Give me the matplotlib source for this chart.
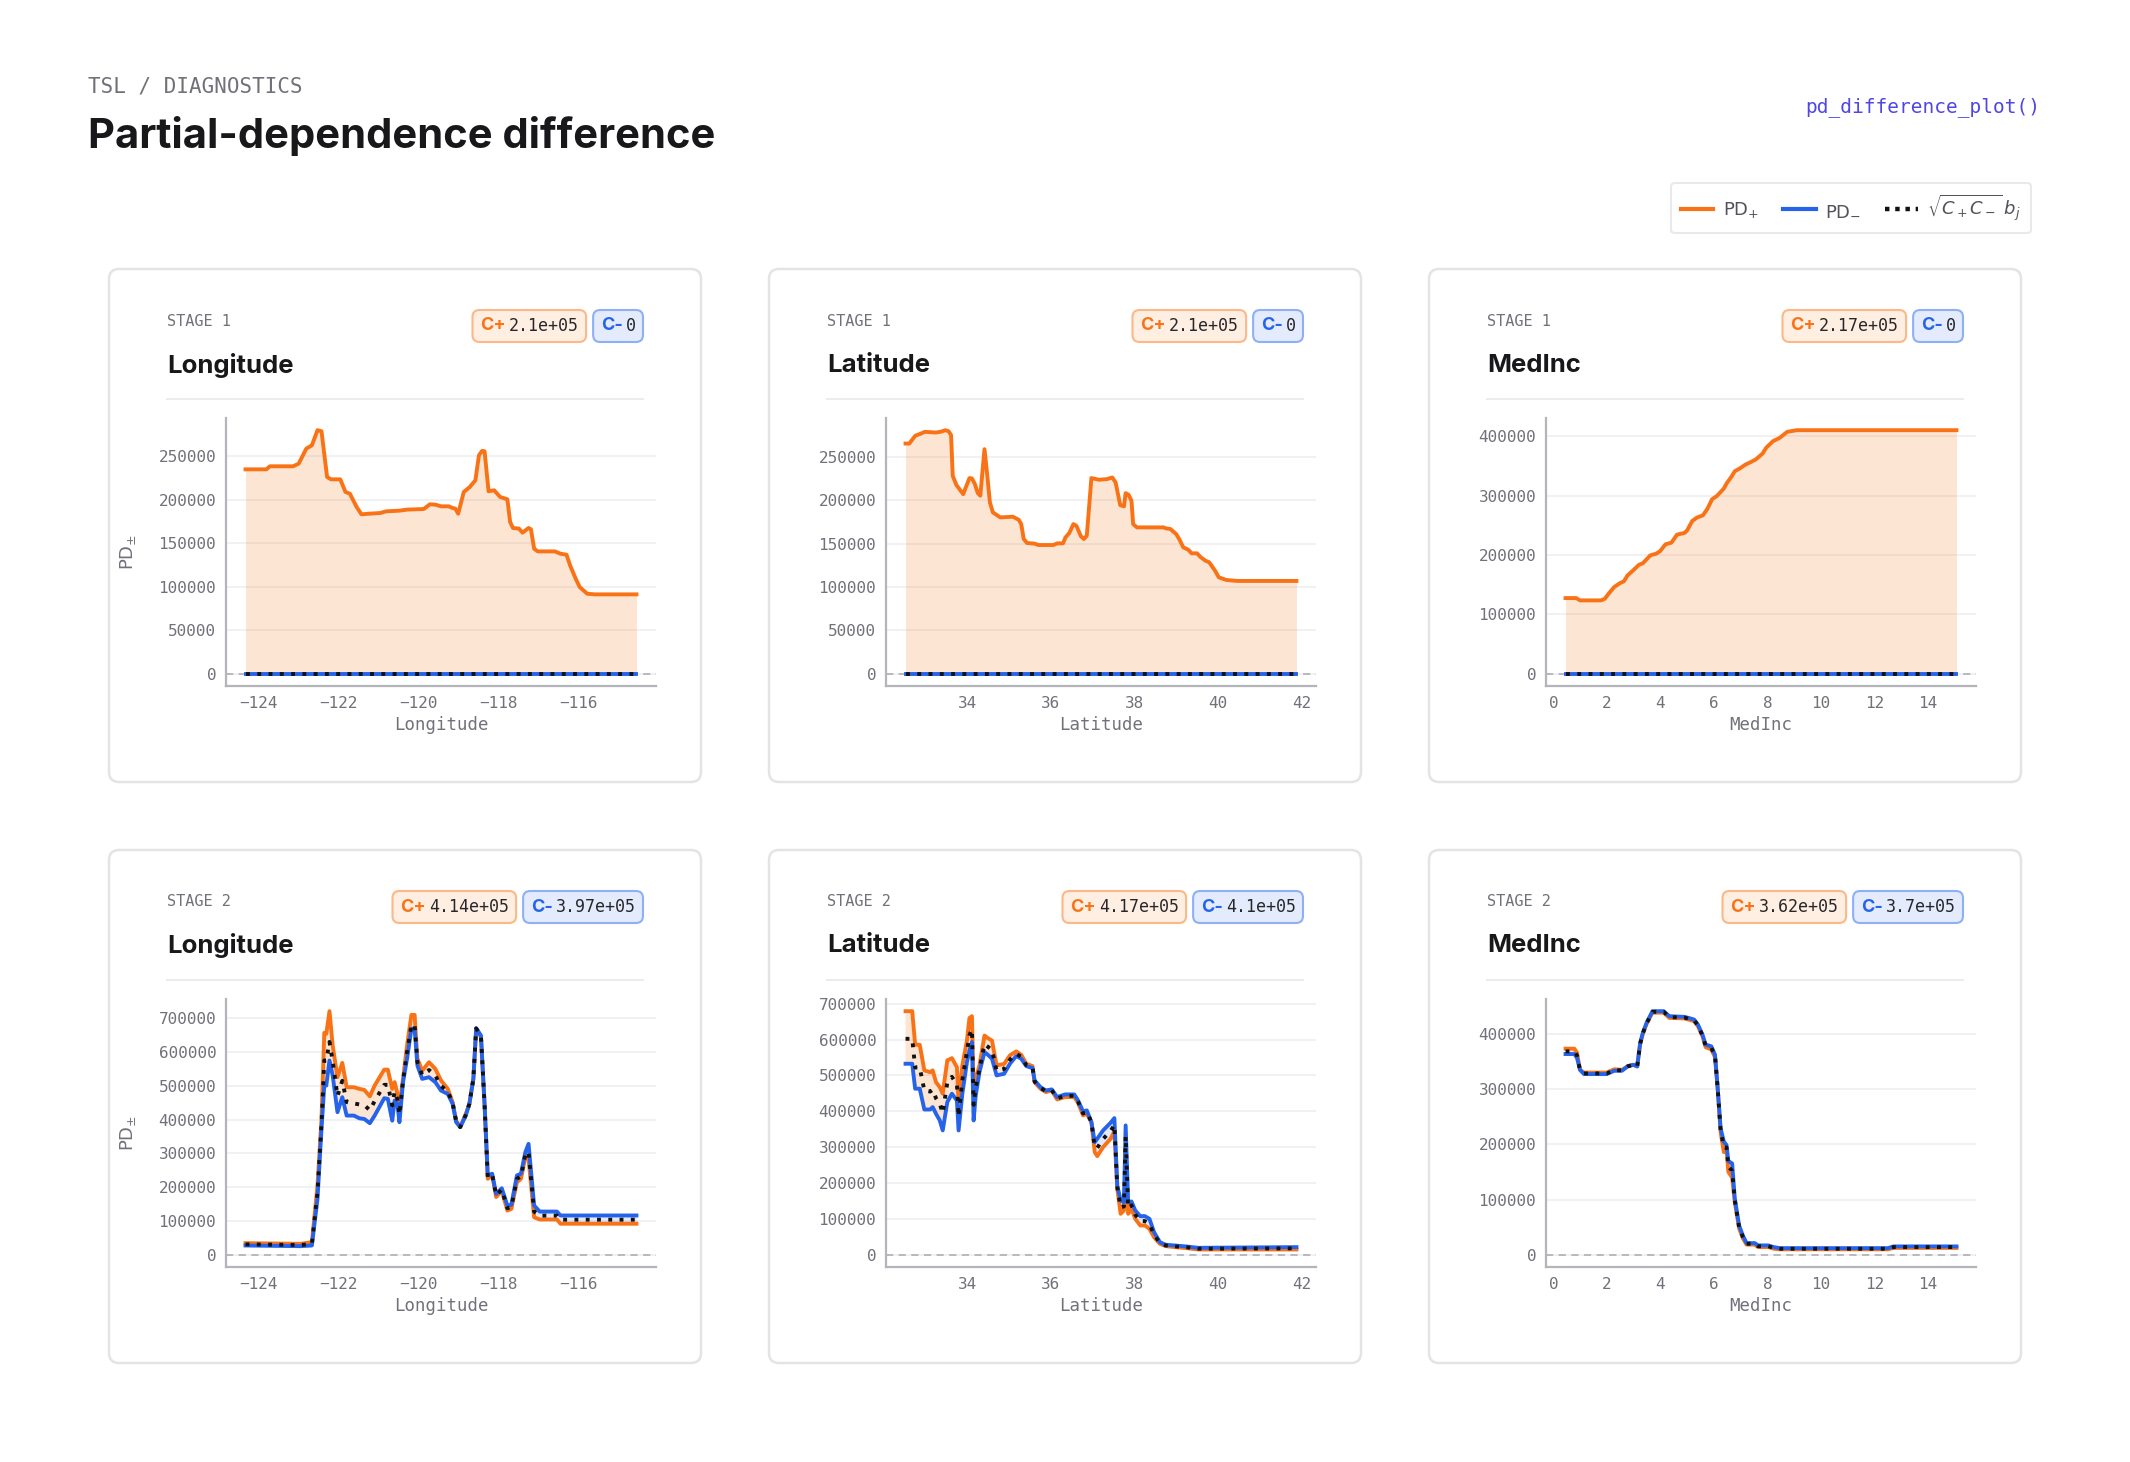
import numpy as np
import matplotlib
matplotlib.use("Agg")
import matplotlib.pyplot as plt
from matplotlib.lines import Line2D
from matplotlib.patches import FancyBboxPatch
from matplotlib.ticker import MultipleLocator

W, H = 2130, 1462
ORANGE = "#f97316"
BLUE = "#2563eb"
GRAY = "#71717a"
INK = "#18181b"
MONO = "DejaVu Sans Mono"
SANS = "Inter"

features = ["Longitude", "Latitude", "MedInc"]
stages = ["STAGE 1", "STAGE 2"]
c_plus = [["2.1e+05", "2.1e+05", "2.17e+05"], ["4.14e+05", "4.17e+05", "3.62e+05"]]
c_minus = [["0", "0", "0"], ["3.97e+05", "4.1e+05", "3.7e+05"]]

# ---- stage 1 (PD- and the dotted term are zero everywhere) ----
s1_lon_x = [-124.33, -123.81, -123.72, -123.14, -123.0, -122.81, -122.67, -122.53, -122.43, -122.29,
            -122.19, -121.96, -121.83, -121.72, -121.55, -121.43, -121.24, -120.96, -120.82, -120.48,
            -120.29, -119.87, -119.72, -119.58, -119.44, -119.25, -119.15, -119.08, -119.01, -118.87,
            -118.72, -118.58, -118.49, -118.41, -118.35, -118.25, -118.11, -117.96, -117.78, -117.71,
            -117.64, -117.49, -117.40, -117.25, -117.19, -117.11, -117.02, -116.59, -116.45, -116.30,
            -116.21, -116.07, -115.97, -115.78, -115.59, -114.55]
s1_lon_plus = [235000, 235000, 238500, 238500, 241500, 258800, 262600, 280000, 278800, 226200,
               223500, 223500, 209000, 207000, 191700, 183300, 184000, 184800, 186700, 187500,
               188700, 189400, 194800, 194400, 192500, 192500, 190600, 189800, 184000, 209000,
               214700, 222400, 251200, 256200, 255800, 209800, 210900, 203200, 200600, 174500,
               167600, 166900, 162200, 167600, 166100, 143800, 140700, 140700, 138000, 136900,
               124600, 109300, 99700, 92000, 91300, 91300]

s1_lat_x = [32.52, 32.61, 32.75, 32.89, 32.98, 33.25, 33.38, 33.47, 33.55, 33.61,
            33.65, 33.74, 33.90, 34.05, 34.11, 34.18, 34.25, 34.31, 34.41, 34.47,
            34.54, 34.61, 34.79, 35.09, 35.23, 35.29, 35.35, 35.43, 35.61, 35.70,
            36.06, 36.15, 36.29, 36.35, 36.44, 36.54, 36.61, 36.72, 36.79, 36.86,
            36.97, 37.15, 37.34, 37.47, 37.55, 37.66, 37.75, 37.79, 37.86, 37.93,
            37.97, 38.06, 38.43, 38.70, 38.75, 38.86, 39.00, 39.08, 39.17, 39.29,
            39.37, 39.50, 39.59, 39.70, 39.79, 39.93, 40.02, 40.20, 40.47, 41.88]
s1_lat_plus = [265300, 265300, 274200, 276800, 278800, 278000, 279100, 280700, 279500, 275000,
               228000, 217400, 207000, 225500, 225100, 218600, 208200, 205200, 258800, 232000,
               197500, 186000, 180200, 181000, 177500, 172500, 155300, 150700, 150000, 148400,
               148400, 150300, 150300, 157200, 162200, 172500, 170600, 158400, 155300, 159100,
               225500, 223600, 224300, 226200, 220500, 194400, 192900, 208200, 206300, 199400,
               172500, 168700, 168700, 168700, 167600, 166900, 161000, 154600, 145700, 143000,
               138800, 138800, 134200, 130400, 128500, 118900, 111200, 108100, 107000, 107000]

s1_inc_x = [0.45, 0.85, 0.99, 1.78, 1.92, 2.06, 2.27, 2.49, 2.63, 2.77,
            2.98, 3.20, 3.34, 3.62, 3.84, 3.98, 4.19, 4.41, 4.62, 4.90,
            5.00, 5.19, 5.36, 5.59, 5.76, 5.93, 6.11, 6.37, 6.47, 6.65,
            6.78, 6.96, 7.18, 7.39, 7.56, 7.82, 7.96, 8.21, 8.46, 8.74,
            9.10, 15.07]
s1_inc_plus = [127500, 127500, 123600, 123600, 126400, 134800, 146100, 152800, 155600, 165700,
               174200, 183700, 186000, 199400, 202200, 206200, 218000, 220800, 234300, 237100,
               241600, 257300, 262900, 266900, 278100, 293800, 299400, 311800, 320200, 331500,
               341000, 345500, 352200, 356700, 360700, 370800, 380900, 391600, 397200, 407300,
               410100, 410100]

# ---- stage 2 ----
s2_lon_x = [-124.33, -122.95, -122.67, -122.53, -122.43, -122.36, -122.31, -122.23, -122.15, -122.03,
            -121.91, -121.80, -121.62, -121.48, -121.36, -121.22, -121.10, -120.86, -120.77, -120.66,
            -120.60, -120.53, -120.48, -120.39, -120.29, -120.18, -120.10, -120.03, -119.91, -119.74,
            -119.58, -119.44, -119.27, -119.15, -119.06, -118.96, -118.82, -118.73, -118.63, -118.56,
            -118.44, -118.35, -118.27, -118.16, -118.06, -117.92, -117.78, -117.68, -117.54, -117.44,
            -117.33, -117.25, -117.11, -116.97, -116.54, -116.45, -114.55]
s2_lon_plus = [34500, 32500, 37500, 205000, 402000, 657000, 654000, 721000, 619000, 525600,
               568000, 496000, 496000, 491000, 488000, 469000, 501000, 548000, 548000, 491000,
               511000, 476000, 442000, 521000, 619000, 710000, 710000, 580000, 545000, 570000,
               550000, 516000, 491000, 452000, 397000, 378000, 417000, 447000, 521000, 669000,
               644000, 442000, 225000, 235000, 171000, 190000, 131000, 136000, 215000, 225000,
               289000, 284000, 111000, 104500, 104500, 92000, 92000]
s2_lon_minus = [27600, 25600, 27600, 165700, 372800, 501000, 501000, 575000, 530600, 422000,
                466500, 412000, 412000, 404000, 402000, 389500, 412000, 463500, 461500, 397000,
                456500, 446700, 392500, 511000, 580000, 669000, 669000, 560000, 520700, 525600,
                510800, 486000, 476000, 447000, 392500, 378000, 412000, 447000, 521000, 670600,
                649000, 447000, 235000, 240000, 180500, 197000, 146000, 148000, 235000, 240000,
                303700, 328400, 146000, 128000, 128000, 116400, 116400]
s2_lon_dot = [31000, 29000, 32500, 185000, 387000, 575000, 575000, 630000, 573000, 470000,
              515000, 452000, 448000, 445000, 443000, 428000, 455000, 503000, 503000, 442000,
              483000, 460000, 415000, 515000, 600000, 680000, 680000, 570000, 532000, 547000,
              530000, 500000, 483000, 450000, 395000, 378000, 414000, 447000, 521000, 670000,
              646000, 445000, 230000, 238000, 176000, 193000, 138000, 142000, 225000, 232000,
              296000, 305000, 128000, 116000, 116000, 104000, 104000]

s2_lat_x = [32.52, 32.68, 32.75, 32.86, 32.97, 33.11, 33.17, 33.25, 33.34, 33.41,
            33.52, 33.63, 33.75, 33.79, 33.88, 33.99, 34.05, 34.11, 34.15, 34.20,
            34.29, 34.41, 34.49, 34.59, 34.70, 34.88, 35.02, 35.17, 35.29, 35.41,
            35.56, 35.61, 35.75, 35.88, 36.02, 36.15, 36.34, 36.56, 36.65, 36.77,
            36.86, 36.97, 37.05, 37.11, 37.25, 37.43, 37.52, 37.59, 37.67, 37.75,
            37.79, 37.85, 37.93, 38.02, 38.14, 38.25, 38.36, 38.47, 38.61, 38.75,
            38.97, 39.25, 39.52, 41.88]
s2_lat_plus = [679000, 679000, 585500, 585500, 514000, 509000, 514000, 481000, 467000, 449000,
               542000, 548000, 523000, 426000, 528000, 597000, 660000, 665000, 463000, 491000,
               528000, 611000, 604000, 597000, 528000, 532000, 556000, 567000, 557600, 532500,
               526000, 481000, 463000, 453500, 458000, 433000, 439600, 439600, 423700, 388500,
               393000, 370000, 286000, 275000, 300000, 323400, 343800, 184000, 114300, 123600,
               300000, 114300, 128000, 100300, 81800, 81800, 72500, 49000, 30700, 24200,
               21400, 18600, 14900, 14900]
s2_lat_minus = [532500, 532500, 463000, 463000, 405000, 405000, 411700, 393000, 374500, 346700,
                425600, 449000, 430000, 346700, 449000, 537000, 570000, 593000, 374500, 444000,
                509000, 565000, 557600, 546500, 500000, 504600, 532500, 554000, 546500, 526000,
                520400, 486000, 467500, 458000, 461000, 439600, 447000, 447000, 430300, 399600,
                402400, 370000, 314000, 323400, 346700, 368000, 381000, 193300, 151500, 146800,
                360600, 146800, 148700, 123600, 107800, 107800, 100300, 63200, 35300, 27900,
                26000, 23200, 19500, 21400]
s2_lat_dot = [602000, 602000, 522000, 522000, 458000, 455000, 460000, 436000, 420000, 395000,
              480000, 496000, 475000, 385000, 487000, 566000, 612000, 628000, 418000, 466000,
              518000, 587000, 580000, 571000, 513000, 518000, 544000, 560000, 552000, 529000,
              523000, 483000, 465000, 456000, 459000, 436000, 443000, 443000, 427000, 394000,
              398000, 370000, 300000, 298000, 323000, 345000, 362000, 188000, 132000, 135000,
              330000, 130000, 138000, 112000, 94000, 94000, 86000, 56000, 33000, 26000,
              23500, 21000, 17000, 18000]

s2_inc_x = [0.45, 0.78, 0.88, 0.99, 1.14, 1.99, 2.27, 2.56, 2.77, 2.98,
            3.13, 3.24, 3.34, 3.48, 3.70, 4.12, 4.33, 4.90, 5.05, 5.26,
            5.40, 5.57, 5.69, 5.90, 6.04, 6.14, 6.25, 6.37, 6.47, 6.54,
            6.68, 6.78, 6.94, 7.08, 7.22, 7.53, 7.65, 8.03, 8.24, 8.46,
            12.51, 12.72, 15.07]
s2_inc_plus = [373300, 373300, 366000, 335000, 330000, 330000, 336000, 335000, 341200, 344200,
               341200, 381000, 400000, 418000, 438500, 438500, 429000, 428000, 426000, 423000,
               414000, 396000, 376000, 372000, 358000, 300000, 222000, 186000, 190000, 150000,
               140000, 95000, 48000, 30000, 18500, 18500, 14000, 14000, 11000, 10000,
               10000, 12500, 12500]
s2_inc_minus = [363600, 363600, 356400, 335000, 327300, 327300, 333300, 333300, 341200, 344200,
                341200, 383600, 401800, 420000, 441200, 441200, 432100, 430900, 429000, 426000,
                417000, 398800, 380600, 377600, 362400, 301800, 229000, 204800, 198800, 169700,
                165500, 101800, 53300, 35100, 21200, 21200, 17000, 17000, 13900, 12100,
                12100, 15200, 15200]
s2_inc_dot = [368500, 368500, 361000, 335000, 328500, 328500, 334500, 334000, 341200, 344200,
              341200, 382000, 401000, 419000, 440000, 440000, 430500, 429500, 427500, 424500,
              415500, 397500, 378000, 375000, 360000, 301000, 225500, 195000, 194500, 160000,
              152000, 98500, 50500, 32500, 20000, 20000, 15500, 15500, 12500, 11000,
              11000, 14000, 14000]

panels = [
    [(s1_lon_x, s1_lon_plus, np.zeros(len(s1_lon_x)), np.zeros(len(s1_lon_x))),
     (s1_lat_x, s1_lat_plus, np.zeros(len(s1_lat_x)), np.zeros(len(s1_lat_x))),
     (s1_inc_x, s1_inc_plus, np.zeros(len(s1_inc_x)), np.zeros(len(s1_inc_x)))],
    [(s2_lon_x, s2_lon_plus, s2_lon_minus, s2_lon_dot),
     (s2_lat_x, s2_lat_plus, s2_lat_minus, s2_lat_dot),
     (s2_inc_x, s2_inc_plus, s2_inc_minus, s2_inc_dot)],
]
y_steps = [[50000, 50000, 100000], [100000, 100000, 100000]]

plt.rcParams["font.family"] = [SANS, "DejaVu Sans"]
fig = plt.figure(figsize=(W / 100, H / 100), dpi=100)
fig.patch.set_facecolor("white")
renderer = fig.canvas.get_renderer()


def fx(px):
    return px / W


def fy(py):
    return 1 - py / H


def box(x0, y0, w, h, r, **kw):
    # pixel rectangle (top-left origin), drawn in inches so corners stay round
    p = FancyBboxPatch((x0 / 100, (H - y0 - h) / 100), w / 100, h / 100,
                       boxstyle=f"round,pad=0,rounding_size={r / 100}",
                       transform=fig.dpi_scale_trans, **kw)
    fig.add_artist(p)
    return p


def badge(right, yc, label, value, color, face, edge):
    tv = fig.text(fx(right - 7), fy(yc), value, ha="right", va="center",
                  family=MONO, size=12, color="#27272a", zorder=6)
    wv = tv.get_window_extent(renderer).width
    tl = fig.text(fx(right - 7 - wv - 3), fy(yc), label, ha="right", va="center",
                  family=SANS, weight="bold", size=13, color=color, zorder=6)
    wl = tl.get_window_extent(renderer).width
    left = right - 7 - wv - 3 - wl - 8
    box(left, yc - 16, right - left, 32, 7, fc=face, ec=edge, lw=1.5, zorder=5)
    return left


# header
fig.text(fx(88), fy(86), "TSL / DIAGNOSTICS", family=MONO, size=15, color=GRAY, va="center")
fig.text(fx(88), fy(136), "Partial-dependence difference", family=SANS, weight="bold",
         size=30, color=INK, va="center")
fig.text(fx(2040), fy(107), "pd_difference_plot()", family=MONO, size=14, color="#4f46e5",
         ha="right", va="center")

handles = [Line2D([], [], color=ORANGE, lw=3),
           Line2D([], [], color=BLUE, lw=3),
           Line2D([], [], color="#111111", lw=3.2, linestyle=(0, (1, 1.3)))]
labels = [r"PD$_{+}$", r"PD$_{-}$", r"$\sqrt{C_+C_-}\,b_j$"]
leg = fig.legend(handles, labels, loc="upper right", bbox_to_anchor=(fx(2031), fy(183)),
                 ncol=3, frameon=True, fancybox=True, handlelength=1.8,
                 columnspacing=1.3, handletextpad=0.55, borderpad=0.55, borderaxespad=0,
                 labelcolor="#52525b", prop={"family": "DejaVu Sans", "size": 13})
leg.get_frame().set_edgecolor("#e4e4e7")
leg.get_frame().set_linewidth(1.5)

card_x = [109, 769, 1429]
card_y = [269, 850]
CW, CH = 592, 513

for r in range(2):
    for c in range(3):
        x0, y0 = card_x[c], card_y[r]
        box(x0, y0, CW, CH, 10, fc="white", ec="#e4e4e7", lw=1.8, zorder=0)
        fig.text(fx(x0 + 58), fy(y0 + 52), stages[r], family=MONO, size=11, color=GRAY, va="center")
        fig.text(fx(x0 + 58), fy(y0 + 96), features[c], family=SANS, weight="bold", size=18.5,
                 color=INK, va="center")
        fig.add_artist(Line2D([fx(x0 + 58), fx(x0 + 534)], [fy(y0 + 130), fy(y0 + 130)],
                              color="#ececef", lw=1.5))
        left = badge(x0 + 534, y0 + 57, "C-", c_minus[r][c], BLUE, "#e3ebfd", "#8fb0f4")
        badge(left - 7, y0 + 57, "C+", c_plus[r][c], ORANGE, "#ffeee2", "#fcb888")

        ax = fig.add_axes([fx(x0 + 117), fy(y0 + 417), 430 / W, 268 / H])
        xs, plus, minus, dot = panels[r][c]
        xs = np.asarray(xs, float)
        plus = np.asarray(plus, float)
        minus = np.asarray(minus, float)
        ax.axhline(0, color="#b4b4bb", lw=1.3, ls=(0, (4, 3)), zorder=1)
        ax.fill_between(xs, minus, plus, where=plus >= minus, interpolate=True,
                        color=ORANGE, alpha=0.18, lw=0, zorder=2)
        ax.fill_between(xs, minus, plus, where=plus < minus, interpolate=True,
                        color=BLUE, alpha=0.13, lw=0, zorder=2)
        ax.plot(xs, plus, color=ORANGE, lw=2.8, zorder=3, solid_joinstyle="round")
        ax.plot(xs, minus, color=BLUE, lw=2.8, zorder=4, solid_joinstyle="round")
        ax.plot(xs, dot, color="#111111", lw=2.8, ls=(0, (1, 1.9)), zorder=5)

        ax.yaxis.set_major_locator(MultipleLocator(y_steps[r][c]))
        ax.xaxis.set_major_locator(MultipleLocator(2))
        ax.ticklabel_format(axis="y", style="plain", useOffset=False)
        ax.grid(axis="y", color="#f0f0f2", lw=1.3, zorder=0)
        ax.set_axisbelow(True)
        for s in ["top", "right"]:
            ax.spines[s].set_visible(False)
        for s in ["left", "bottom"]:
            ax.spines[s].set_color("#b4b4bb")
            ax.spines[s].set_linewidth(1.6)
        ax.tick_params(length=0, pad=7, labelsize=11.5, labelcolor=GRAY)
        for lab in ax.get_xticklabels() + ax.get_yticklabels():
            lab.set_family(MONO)
        ax.set_xlabel(features[c], family=MONO, size=12.5, color=GRAY, labelpad=4)
        if c == 0:
            ax.set_ylabel(r"PD$_{\pm}$", family="DejaVu Sans", size=13, color=GRAY)
            ax.yaxis.set_label_coords(-0.205, 0.5)

fig.savefig("out.png", dpi=100, facecolor="white")
